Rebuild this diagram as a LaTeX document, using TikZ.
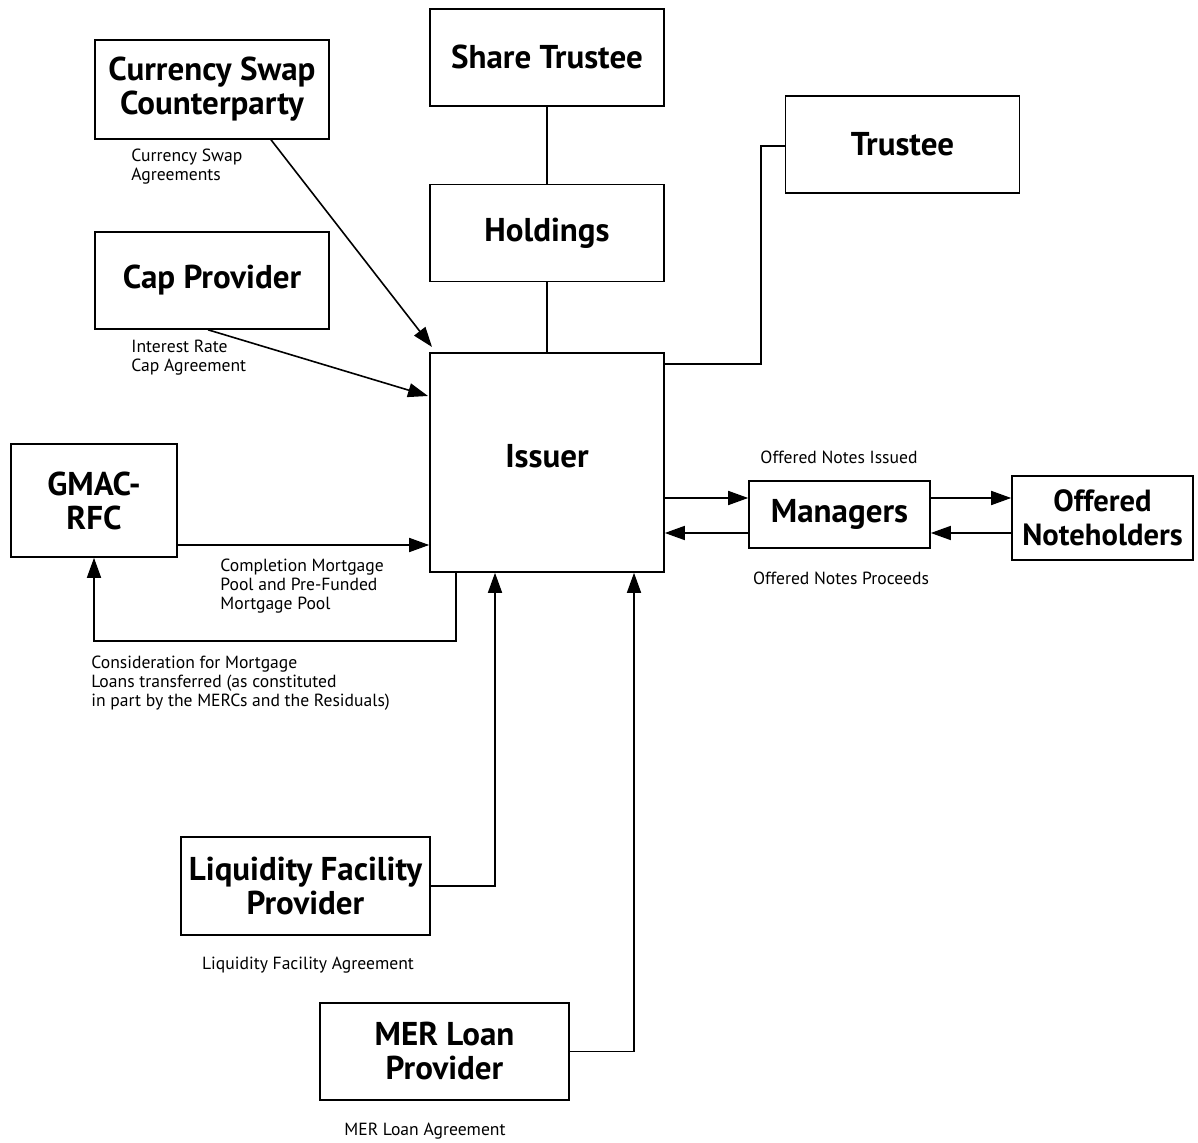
\documentclass[tikz,border=0pt]{standalone}
\usepackage{fontspec}
\setmainfont{PT Sans}
\usetikzlibrary{positioning,arrows.meta}
\tikzset{party node/.style={draw,thick,minimum width=117pt,minimum height=48.5pt,inner sep=1pt,align=center,font=\fontsize{16.5}{17}\selectfont\bfseries},
  note node/.style={align=left,inner sep=0pt,font=\fontsize{8.8}{9.5}\selectfont},
  flow/.style={-{Triangle[length=10pt,width=7pt]},thick}}

\begin{document}
\begin{tikzpicture}[x=0.5pt,y=-0.5pt]
            \useasboundingbox (0,0) rectangle (1198,1143);
            \node[party node,minimum height=109.5pt] (issuer) at (547,462.5) {Issuer\\[-10pt]};
            \node[party node] (hold) [above = 35pt of issuer] {Holdings};
            \node[party node] (share) [above = 38.5pt of hold] {Share Trustee};
            \node[party node] (trustee) at (902.5,144.5) {Trustee};
            \node[party node,minimum height=49.5pt] (swap) at (212,89.5) {Currency Swap\\Counterparty};
            \node[party node] (cap) at (212,280.5) {Cap Provider};
            \node[party node,minimum width=83pt,minimum height=56.5pt] (gmac) at (94,500.5) {GMAC-\\RFC};
            \node[party node,minimum width=90.5pt,minimum height=33.5pt] (mgr) at (839.5,514.5) {Managers};
            \node[party node,minimum width=90.5pt,minimum height=42pt,font=\fontsize{15.3}{17}\selectfont\bfseries] (holders) at (1102.5,518) {Offered\\Noteholders};
            \node[party node,minimum width=124.5pt,minimum height=49pt] (liq) at (305.5,886) {Liquidity Facility\\Provider};
            \node[party node,minimum width=124.5pt] (mer) at (444.5,1051.5) {MER Loan\\Provider};

            \coordinate (swapin) at (432,347);
            \coordinate (capin) at (428,396);

            % labels
            \node[note node,anchor=north west] at (131,149) {Currency Swap\\Agreements};
            \node[note node,anchor=north west] at (131,340) {Interest Rate\\Cap Agreement};
            \node[note node,anchor=north west] at (220,559) {Completion Mortgage\\Pool and Pre-Funded\\Mortgage Pool};
            \node[note node,anchor=north west] at (91,656) {Consideration for Mortgage\\Loans transferred (as constituted\\in part by the MERCs and the Residuals)};
            \node[note node] at (839,457) {Offered Notes Issued};
            \node[note node] at (841,578) {Offered Notes Proceeds};
            \node[note node] at (308,965) {Liquidity Facility Agreement};
            \node[note node] at (425,1131) {MER Loan Agreement};

            \path[draw, thick]
            (share) edge (hold)
            (hold) edge (issuer);
            \draw[thick] (issuer.east |- 0,364) -| (761,146) -- (trustee.west |- 0,146);

            \draw[flow] (swap.south -| 271,0) -- (swapin);
            \draw[flow] (cap.south -| 208,0) -- (capin);
            \draw[flow] (gmac.east |- 0,545) -- (issuer.west |- 0,545);
            \draw[flow] (issuer.south -| 456,0) |- (94,641) -- (gmac.south);
            \draw[flow] (issuer.east |- 0,498) -- (mgr.west |- 0,498);
            \draw[flow] (mgr.west |- 0,533) -- (issuer.east |- 0,533);
            \draw[flow] (mgr.east |- 0,498) -- (holders.west |- 0,498);
            \draw[flow] (holders.west |- 0,533) -- (mgr.east |- 0,533);
            \draw[flow] (liq.east) -| (issuer.south -| 495,0);
            \draw[flow] (mer.east) -| (issuer.south -| 634,0);
        \end{tikzpicture}
\end{document}
